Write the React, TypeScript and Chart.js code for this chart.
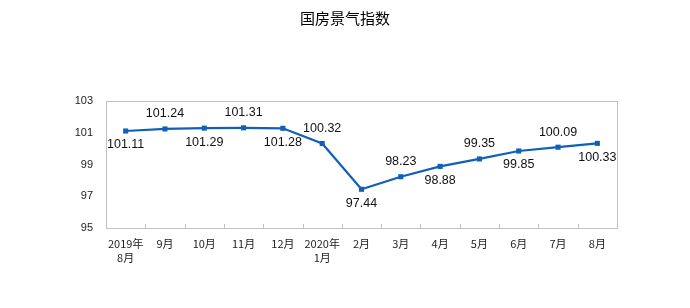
import React, { useEffect, useRef } from "react";
import { Chart, registerables } from "chart.js";

Chart.register(...registerables);

const titleText = "国房景气指数";
const categories: (string | string[])[] = [
  ["2019年", "8月"], "9月", "10月", "11月", "12月", ["2020年", "1月"],
  "2月", "3月", "4月", "5月", "6月", "7月", "8月",
];
const values = [101.11, 101.24, 101.29, 101.31, 101.28, 100.32, 97.44, 98.23, 98.88, 99.35, 99.85, 100.09, 100.33];
// label placement: 1 = below point, -1 = above
const labelSide = [1, -1, 1, -1, 1, -1, 1, -1, 1, -1, 1, -1, 1];
const yMin = 95;
const yMax = 103;
const yStep = 2;

const LINE_COLOR = "#1060b8";

const overlay = {
  id: "overlay",
  afterDraw(chart: any) {
    const ctx = chart.ctx;
    const ca = chart.chartArea;
    ctx.save();
    // frame
    ctx.strokeStyle = "#c0c0c0";
    ctx.lineWidth = 1;
    ctx.strokeRect(Math.round(ca.left) + 0.5, Math.round(ca.top) + 0.5, Math.round(ca.right - ca.left), Math.round(ca.bottom - ca.top));
    // x tick marks at category boundaries (inside)
    const n = categories.length;
    const w = (ca.right - ca.left) / n;
    ctx.beginPath();
    for (let i = 1; i < n; i++) {
      const x = Math.round(ca.left + w * i) + 0.5;
      ctx.moveTo(x, ca.bottom);
      ctx.lineTo(x, ca.bottom - 4);
    }
    ctx.stroke();
    // title
    ctx.fillStyle = "#000";
    ctx.font = "15px 'Noto Sans CJK SC'";
    ctx.textAlign = "center";
    ctx.textBaseline = "middle";
    ctx.fillText(titleText, 345, 18);
    // data labels
    const meta = chart.getDatasetMeta(0);
    ctx.font = "12.5px 'Liberation Sans', Arial";
    ctx.fillStyle = "#111";
    meta.data.forEach((pt: any, i: number) => {
      const off = labelSide[i] > 0 ? 14 : -15;
      ctx.fillText(values[i].toFixed(2), pt.x, pt.y + off);
    });
    ctx.restore();
  },
};

export default function App() {
  const ref = useRef<HTMLCanvasElement>(null);
  useEffect(() => {
    const chart = new Chart(ref.current!, {
      type: "line",
      data: {
        labels: categories as any,
        datasets: [
          {
            data: values,
            borderColor: LINE_COLOR,
            backgroundColor: LINE_COLOR,
            borderWidth: 2.2,
            pointStyle: "rect",
            pointRadius: 3.6,
            pointBorderWidth: 0,
            tension: 0,
          },
        ],
      },
      options: {
        animation: false,
        responsive: false,
        maintainAspectRatio: false,
        layout: { padding: { left: 0, right: 73, top: 101, bottom: 0 } },
        plugins: { legend: { display: false }, title: { display: false }, tooltip: { enabled: false } },
        scales: {
          x: {
            offset: true,
            grid: { display: false, drawTicks: false },
            border: { display: false },
            ticks: {
              color: "#222",
              font: { family: "'Noto Sans CJK SC'", size: 11, lineHeight: 1.27 },
              padding: 9,
              maxRotation: 0,
              autoSkip: false,
            },
            afterFit: (s: any) => { s.height = 308 - 228; },
          },
          y: {
            min: yMin,
            max: yMax,
            grid: { display: false, drawTicks: false },
            border: { display: false },
            ticks: {
              stepSize: yStep,
              color: "#222",
              font: { family: "'Liberation Sans', Arial", size: 11 },
              padding: 13,
            },
            afterFit: (s: any) => { s.width = 106; },
          },
        },
      },
      plugins: [overlay],
    });
    return () => chart.destroy();
  }, []);
  return (
    <div style={{ position: "fixed", left: 0, top: 0, width: 690, height: 308, background: "#fff" }}>
      <canvas ref={ref} width={690} height={308} style={{ width: 690, height: 308 }} />
    </div>
  );
}
